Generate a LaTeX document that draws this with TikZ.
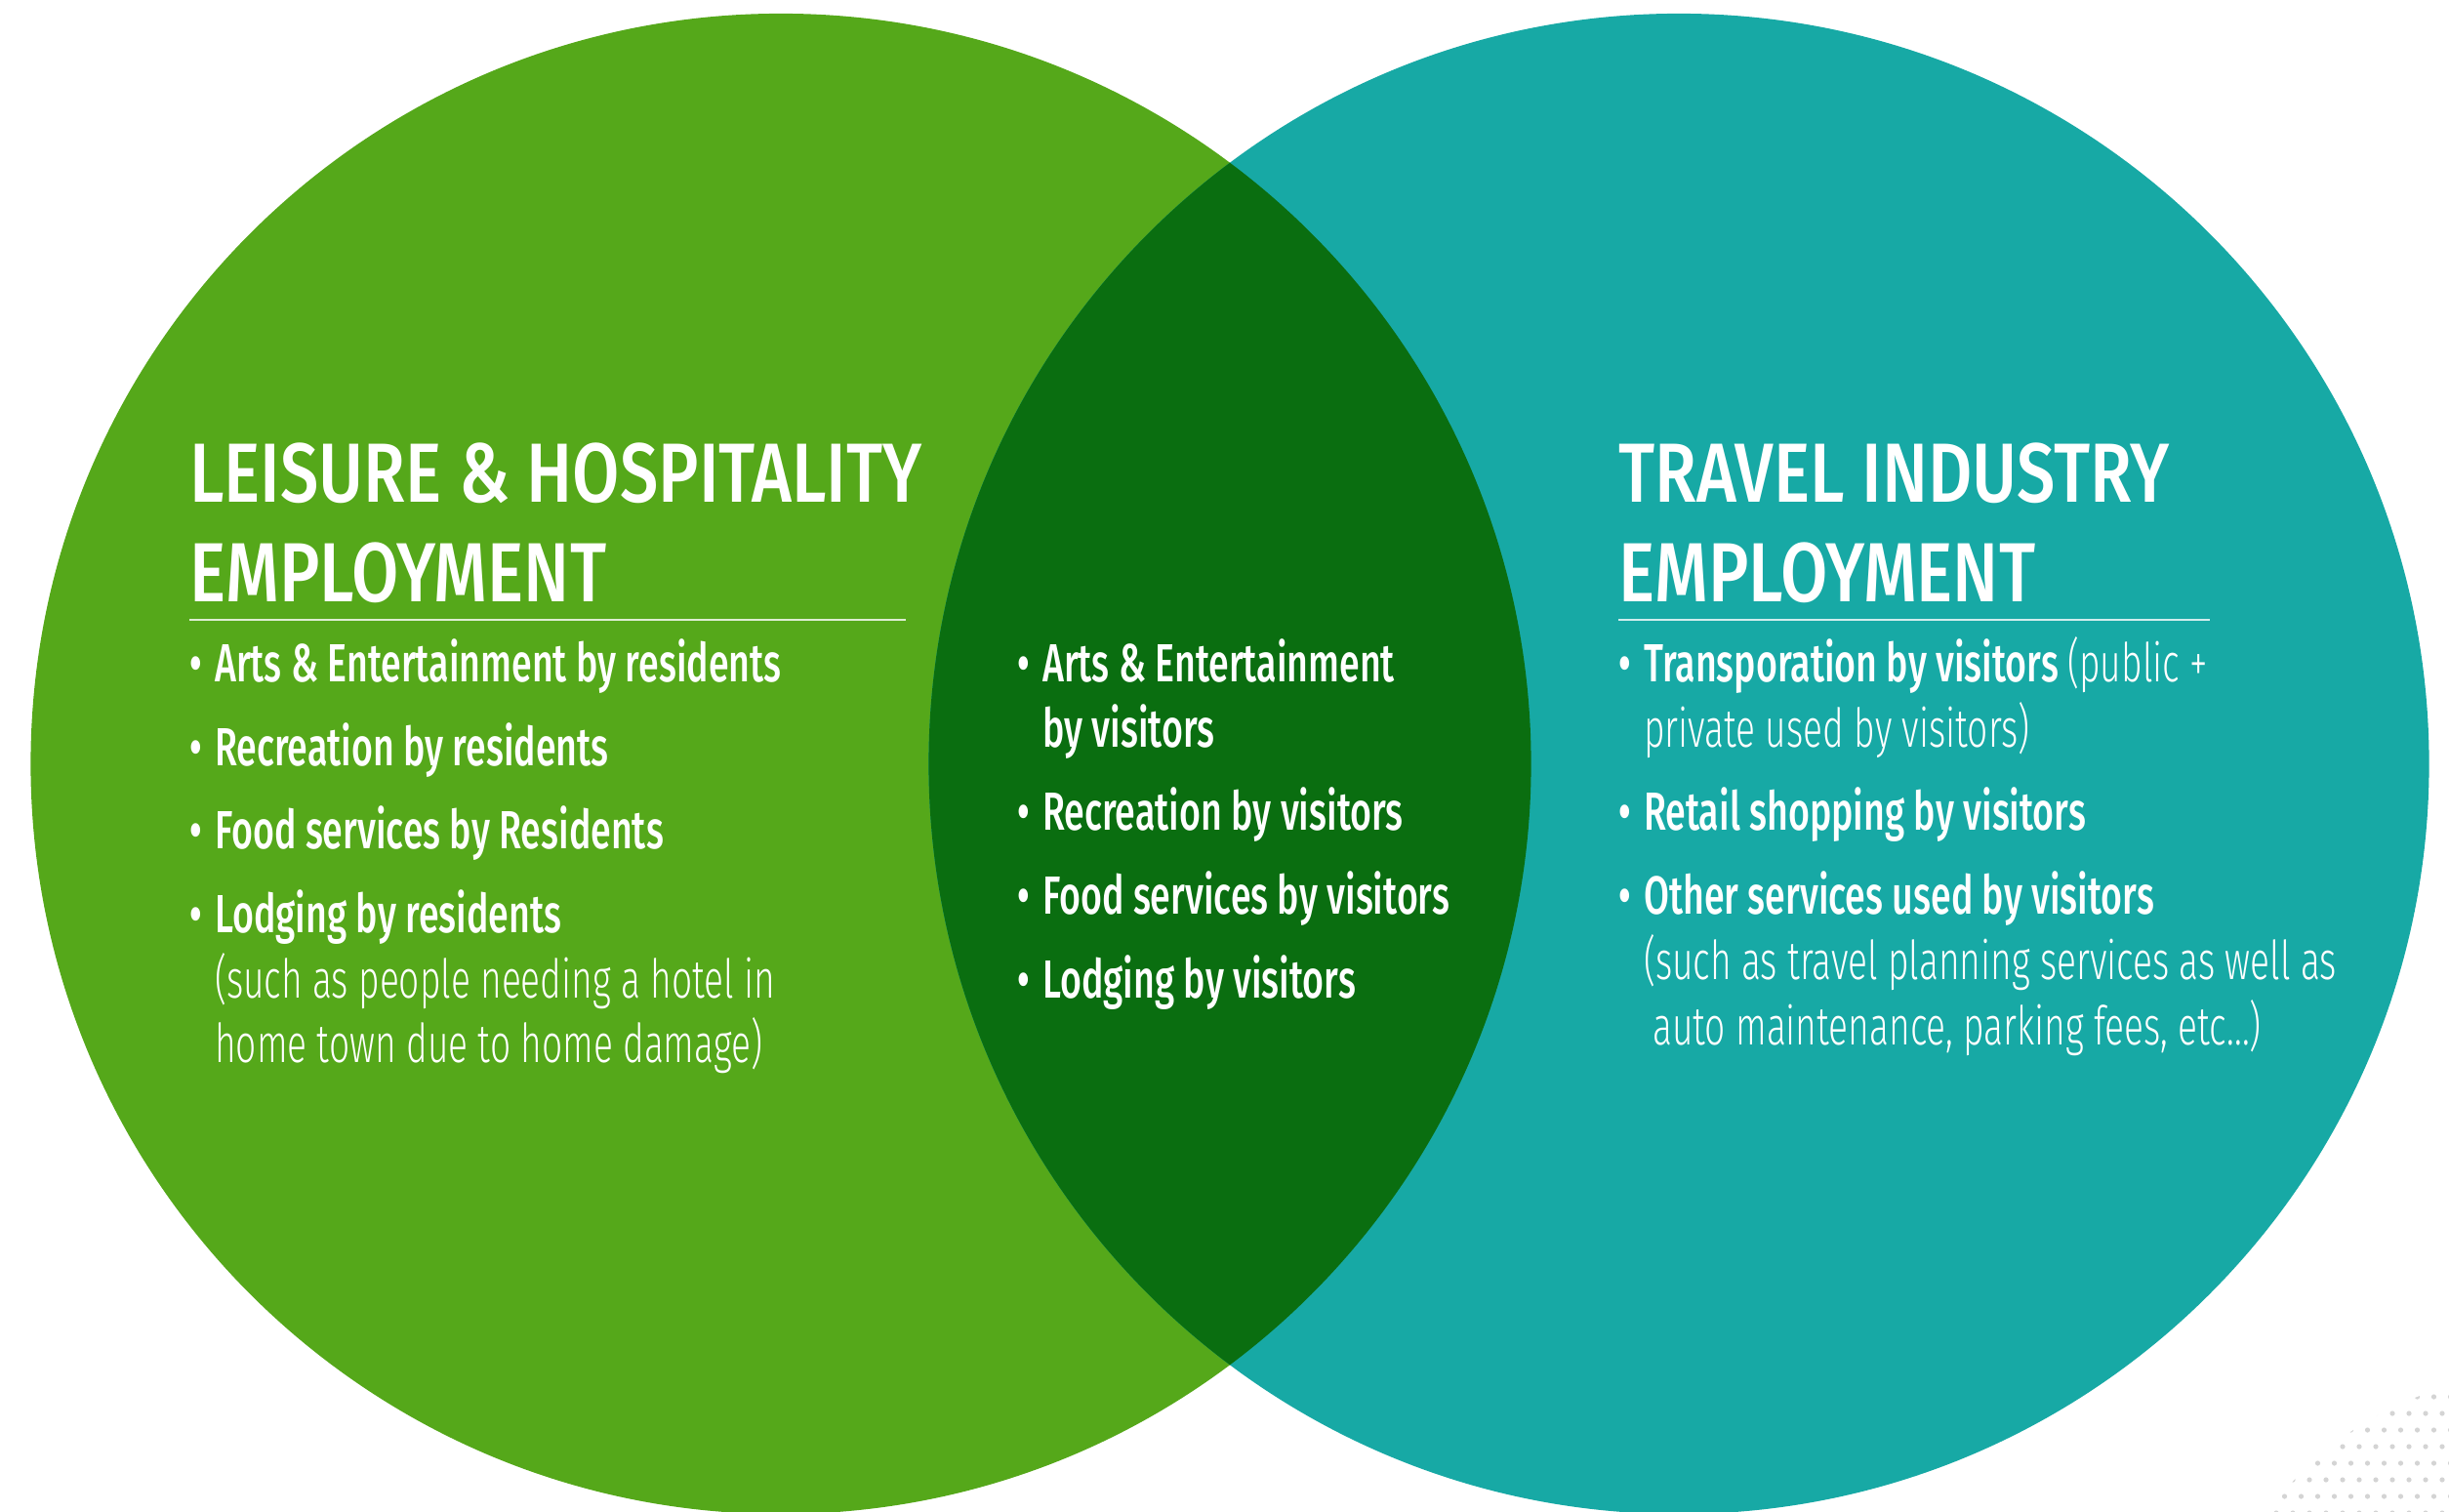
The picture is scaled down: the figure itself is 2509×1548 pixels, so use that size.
\documentclass[tikz,border=0pt]{standalone}
\usepackage{fontspec}
\newfontfamily\headf{Fira Sans Medium}[FakeStretch=0.815]
\newfontfamily\bodyf{Fira Sans Medium}[FakeStretch=0.683]
\newfontfamily\lightf{Fira Sans Light}[FakeStretch=0.675]
\definecolor{leftgreen}{HTML}{55A81A}
\definecolor{rightteal}{HTML}{17A9A5}
\definecolor{darkgreen}{HTML}{0A6E10}
\newcommand\bul{\makebox[26pt][l]{•}}
\tikzset{
  headtxt/.style={anchor=base west, inner sep=0pt, text=white, font=\headf\fontsize{86}{90}\selectfont},
  itemtxt/.style={anchor=base west, inner sep=0pt, text=white, font=\bodyf\fontsize{55}{60}\selectfont},
  notetxt/.style={anchor=base west, inner sep=0pt, text=white, font=\lightf\fontsize{55}{60}\selectfont},
  rulestyle/.style={draw=white, draw opacity=0.8, line width=2.5pt},
}
\begin{document}
\begin{tikzpicture}[x=1pt,y=-1pt]
\useasboundingbox (0,0) rectangle (2509,1548);
\begin{scope}
  \clip (0,0) rectangle (2509,1548);
  \fill[leftgreen] (800,782.5) circle (768.6);
  \fill[rightteal] (1720,782.5) circle (768.6);
  \begin{scope}
    \clip (800,782.5) circle (768.6);
    \fill[darkgreen] (1720,782.5) circle (768.6);
  \end{scope}
  \begin{scope}
    \clip (2600,1750) circle (342);
    \foreach \i in {0,...,17} {
      \foreach \j in {0,...,10} {
        \pgfmathsetmacro\xx{2230+\i*17+mod(\j,2)*8.5}
        \pgfmathsetmacro\yy{1380+\j*17}
        \fill[black!17] (\xx,\yy) circle (2.6);
      }
    }
  \end{scope}
\end{scope}

% Left circle
\node[headtxt] (lh1) at (194,514) {LEISURE \& HOSPITALITY};
\node[headtxt] (lh2) at (194,616) {EMPLOYMENT};
\coordinate (lr1) at (194,635);
\coordinate (lr2) at (928,635);
\draw[rulestyle] (lr1) -- (lr2);
\node[itemtxt] (la) at (194,698) {\bul Arts \& Entertainment by residents};
\node[itemtxt] (lb) at (194,784) {\bul Recreation by residents};
\node[itemtxt] (lc) at (194,869) {\bul Food services by Residents};
\node[itemtxt] (ld) at (194,955) {\bul Lodging by residents};
\node[notetxt] (ld2) at (220,1022) {(such as people needing a hotel in};
\node[notetxt] (ld3) at (220,1088) {home town due to home damage)};

% Middle
\node[itemtxt] (ma) at (1042,698) {\bul Arts \& Entertainment};
\node[itemtxt] (ma2) at (1068,765) {by visitors};
\node[itemtxt] (mb) at (1042,850) {\bul Recreation by visitors};
\node[itemtxt] (mc) at (1042,936) {\bul Food services by visitors};
\node[itemtxt] (md) at (1042,1022) {\bul Lodging by visitors};

% Right circle
\node[headtxt] (rh1) at (1658,514) {TRAVEL INDUSTRY};
\node[headtxt] (rh2) at (1658,616) {EMPLOYMENT};
\coordinate (rr1) at (1658,635);
\coordinate (rr2) at (2264,635);
\draw[rulestyle] (rr1) -- (rr2);
\node[itemtxt] (ra) at (1658,698) {\bul Transporation by visitors {\lightf(public +}};
\node[notetxt] (ra2) at (1684,765) {private used by visitors)};
\node[itemtxt] (rb) at (1658,850) {\bul Retail shopping by visitors};
\node[itemtxt] (rc) at (1658,936) {\bul Other services used by visitors};
\node[notetxt] (rc2) at (1684,1003) {(such as travel planning services as well as};
\node[notetxt] (rc3) at (1693,1070) {auto maintenance, parking fees, etc...)};
\end{tikzpicture}
\end{document}
